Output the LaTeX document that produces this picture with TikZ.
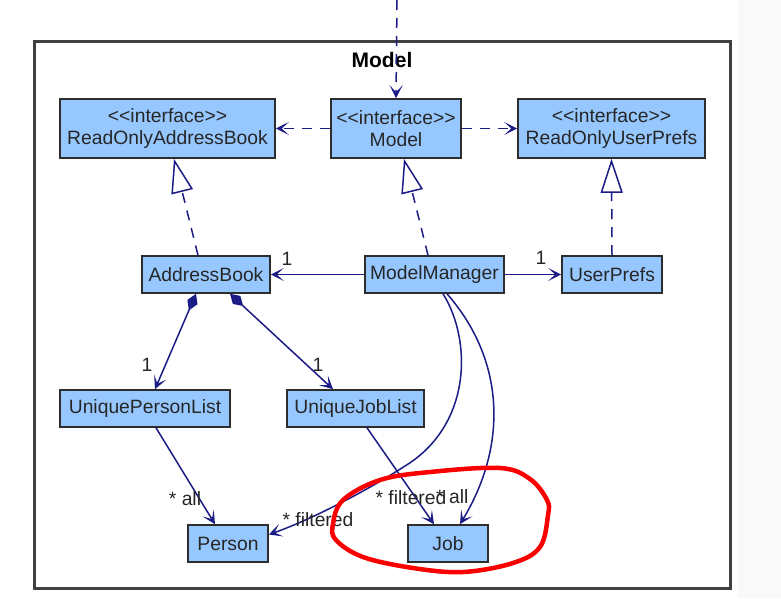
\documentclass[tikz,border=0pt]{standalone}
\usepackage{fontspec}
\setmainfont[Ligatures=TeXOff]{Liberation Sans}
\usetikzlibrary{arrows.meta,calc}
\definecolor{boxfill}{RGB}{150,200,255}
\definecolor{boxline}{RGB}{45,45,45}
\definecolor{arr}{RGB}{28,28,135}
\definecolor{redmark}{RGB}{250,0,0}
\definecolor{sidegray}{RGB}{249,249,249}
\newcommand{\stereo}{<\kern0pt<interface>\kern0pt>}
\begin{document}
\begin{tikzpicture}[x=1pt,y=-1pt,
  font=\fontsize{19.3}{22}\selectfont,
  cls/.style={draw=boxline,fill=boxfill,line width=1.6pt,inner sep=0pt,align=center,text=black!85},
  dep/.style={draw=arr,line width=1.5pt,dash pattern=on 10pt off 8pt,-{Stealth[length=13pt,width=13pt,inset=7pt]}},
  assoc/.style={draw=arr,line width=1.5pt,-{Stealth[length=13pt,width=13pt,inset=7pt]}},
  real/.style={draw=arr,line width=1.5pt,dash pattern=on 10pt off 8pt,-{Triangle[open,fill=white,length=34pt,width=22pt]}},
  comp/.style={draw=arr,line width=1.5pt,{Diamond[length=18pt,width=11pt]}-{Stealth[length=13pt,width=13pt,inset=7pt]}},
  lbl/.style={text=black!85,inner sep=0pt}]
\useasboundingbox (0,0) rectangle (781,598);
\fill[white] (0,0) rectangle (781,598);
\fill[sidegray] (738,0) rectangle (781,598);
\draw[line width=3pt,draw=black!75] (34,41) rectangle (730,588);
\node[font=\fontsize{21}{24}\selectfont\bfseries] (title) at (382,60) {Model};

\node[cls,minimum width=215pt,minimum height=59pt] (roab) at (167.5,128.5) {\stereo\\ReadOnlyAddressBook};
\node[cls,minimum width=130pt,minimum height=59pt] (model) at (396,128.5) {\stereo\\Model};
\node[cls,minimum width=187pt,minimum height=59pt] (roup) at (611.5,128.5) {\stereo\\ReadOnlyUserPrefs};
\node[cls,minimum width=128pt,minimum height=37pt] (ab) at (206,274.5) {AddressBook};
\node[cls,minimum width=139pt,minimum height=37pt] (mm) at (434.5,274.5) {ModelManager};
\node[cls,minimum width=100pt,minimum height=37pt] (up) at (612,274.5) {UserPrefs};
\node[cls,minimum width=170pt,minimum height=37pt] (upl) at (145,408.5) {UniquePersonList};
\node[cls,minimum width=137pt,minimum height=37pt] (ujl) at (355.5,408.5) {UniqueJobList};
\node[cls,minimum width=80pt,minimum height=37pt] (person) at (228,543.5) {Person};
\node[cls,minimum width=80pt,minimum height=37pt] (job) at (448,543.5) {Job};

\coordinate (topin) at (397,0);
\draw[dep] (topin) -- (model.north);
\draw[dep] (model.west) -- (roab.east);
\draw[dep] (model.east) -- (roup.west);

\draw[real] ([xshift=-8pt]ab.north) -- ([xshift=6.5pt]roab.south);
\draw[real] ([xshift=-6.5pt]mm.north) -- ([xshift=8pt]model.south);
\draw[real] (up.north) -- (roup.south);

\draw[assoc] (mm.west) -- (ab.east);
\draw[assoc] (mm.east) -- (up.west);
\node[lbl] (l1) at (287,259) {1};
\node[lbl] (l2) at (541,258) {1};

\draw[comp] ([xshift=-10pt]ab.south) -- ([xshift=10pt]upl.north);
\draw[comp] ([xshift=24pt]ab.south) -- ([xshift=-22.5pt]ujl.north);
\node[lbl] (l3) at (147,365) {1};
\node[lbl] (l4) at (318,365) {1};

\draw[assoc] ([xshift=11pt]upl.south) -- ([xshift=-13pt]person.north);
\draw[assoc] ([xshift=11.5pt]ujl.south) -- ([xshift=-14pt]job.north);
\draw[assoc] ([xshift=8.5pt]mm.south) .. controls (472,340) and (472,425) .. (405,466) .. controls (360,495) and (305,522) .. ([yshift=9pt]person.east);
\draw[assoc] ([xshift=12.5pt]mm.south) .. controls (505,360) and (508,445) .. ([xshift=12pt]job.north);

\node[lbl] (a1) at (185,499) {* all};
\node[lbl] (f1) at (318,520) {* filtered};
\node[lbl] (f2) at (411,498) {* filtered};
\node[lbl,anchor=west] (a2) at (436,497) {* all};

\draw[redmark,line width=4.5pt,line join=round] plot[smooth cycle,tension=0.6] coordinates {
 (343,500) (380,480) (430,472) (500,468) (530,479) (547,500) (548,515) (540,547) (513,563) (463,572) (413,568) (363,557) (336,540) (333,524)};
\end{tikzpicture}
\end{document}
